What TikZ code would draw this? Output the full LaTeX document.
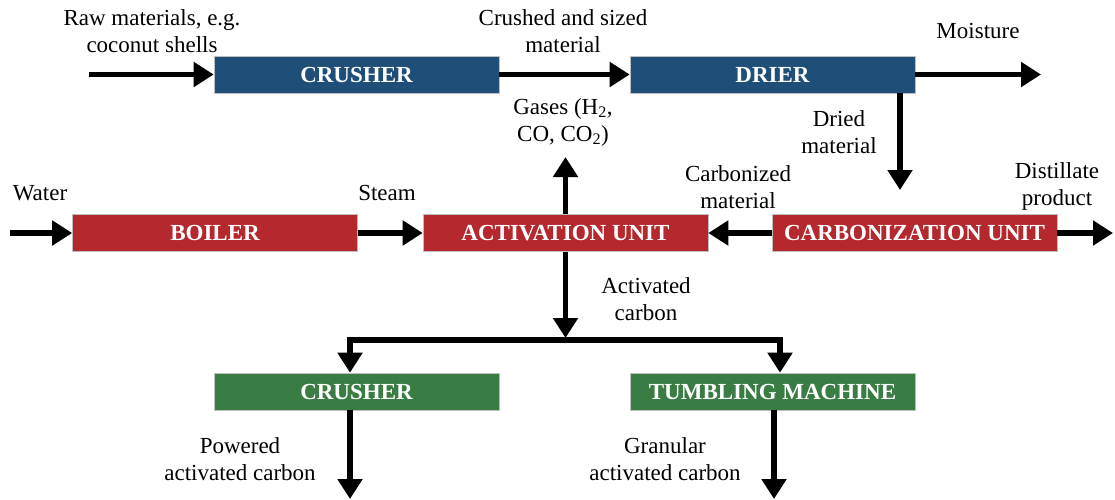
\documentclass[tikz,border=0pt]{standalone}
\usepackage{fontspec}
\setmainfont{Liberation Serif}
\usetikzlibrary{arrows.meta}
\definecolor{bblue}{RGB}{31,78,121}
\definecolor{bred}{RGB}{181,40,46}
\definecolor{bgreen}{RGB}{58,125,68}
\begin{document}
\begin{tikzpicture}[x=1pt,y=-1pt,
  box/.style={minimum width=285pt, minimum height=37pt, inner sep=0pt,
    font=\fontsize{23}{25}\selectfont\bfseries, text=white, draw=gray!50, line width=0.6pt},
  flow/.style={line width=5.5pt, line join=miter, -{Triangle[length=20pt,width=24pt]}},
  lbl/.style={font=\fontsize{23}{27}\selectfont, align=center, inner sep=0pt}]
\useasboundingbox (0,0) rectangle (1115,499);
% boxes
\node[box, fill=bblue] (crush1) at (356.5,74.5) {CRUSHER};
\node[box, fill=bblue] (drier) at (772.5,74.5) {DRIER};
\node[box, fill=bred] (boiler) at (215,233) {BOILER};
\node[box, fill=bred] (act) at (565.5,233) {ACTIVATION UNIT};
\node[box, fill=bred] (carb) at (914.5,233) {CARBONIZATION UNIT};
\node[box, fill=bgreen] (crush2) at (356.5,391.5) {CRUSHER};
\node[box, fill=bgreen] (tumb) at (772.5,391.5) {TUMBLING MACHINE};
% free ends
\coordinate (rawin) at (89,74.5);
\coordinate (moist) at (1041,74.5);
\coordinate (waterin) at (10,233);
\coordinate (distout) at (1113,233);
\coordinate (gasout) at (565.5,157);
\coordinate (dried) at (900,190);
\coordinate (split) at (565.5,338);
\coordinate (bl) at (350,340);
\coordinate (bm) at (565.5,340);
\coordinate (br) at (780,340);
\coordinate (outL) at (350,499);
\coordinate (outR) at (774,499);
% connectors
\draw[flow] (rawin) -- (crush1.west);
\draw[flow] (crush1.east) -- (drier.west);
\draw[flow] (drier.east) -- (moist);
\draw[flow] (dried |- drier.south) -- (dried);
\draw[flow] (carb.west) -- (act.east);
\draw[flow] (carb.east) -- (distout);
\draw[flow] (waterin) -- (boiler.west);
\draw[flow] (boiler.east) -- (act.west);
\draw[flow] (act.north) -- (gasout);
\draw[flow] (act.south) -- (split);
\draw[flow] (bm) -- (bl) -- (bl |- crush2.north);
\draw[flow] (bm) -- (br) -- (br |- tumb.north);
\draw[flow] (outL |- crush2.south) -- (outL);
\draw[flow] (outR |- tumb.south) -- (outR);
% labels
\node[lbl] (lraw) at (152,31) {Raw materials, e.g.\\coconut shells};
\node[lbl] (lcrushed) at (563,31) {Crushed and sized\\material};
\node[lbl] (lmoist) at (978,31) {Moisture};
\node[lbl] (lgas) at (563,122) {Gases (H\textsubscript{2},\\CO, CO\textsubscript{2})};
\node[lbl] (ldried) at (839,132) {Dried\\material};
\node[lbl] (lcarb) at (738,187) {Carbonized\\material};
\node[lbl] (ldist) at (1057,186) {Distillate\\product};
\node[lbl] (lwater) at (40,193) {Water};
\node[lbl] (lsteam) at (387,193) {Steam};
\node[lbl] (lact) at (646,299) {Activated\\carbon};
\node[lbl] (lpow) at (240,459) {Powered\\activated carbon};
\node[lbl] (lgran) at (665,459) {Granular\\activated carbon};
\end{tikzpicture}
\end{document}
